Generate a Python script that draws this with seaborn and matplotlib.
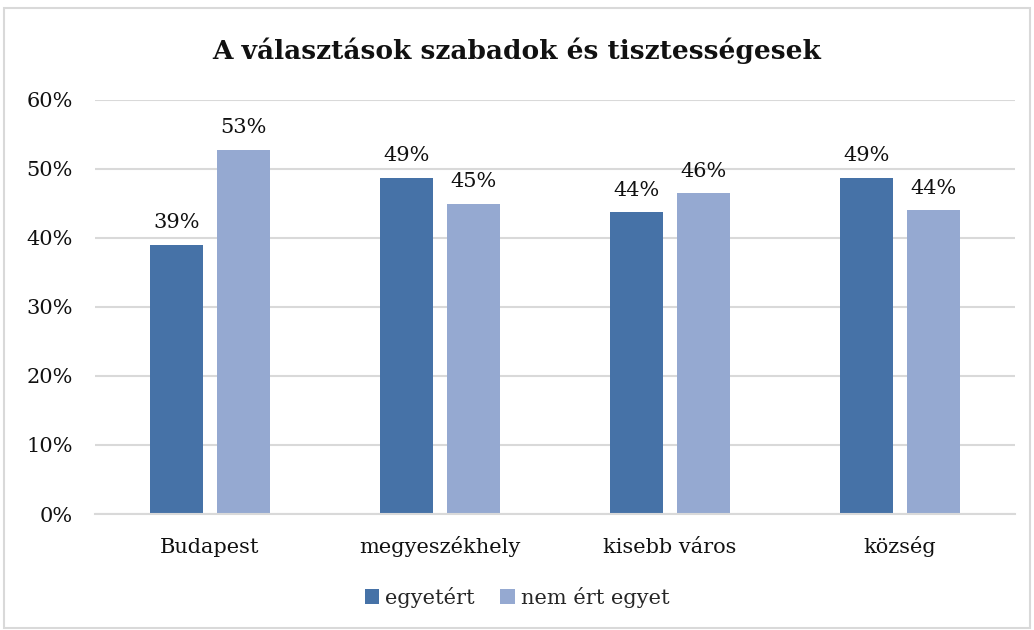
import matplotlib
matplotlib.use("Agg")
import matplotlib.pyplot as plt
import seaborn as sns
import pandas as pd
from matplotlib.patches import Rectangle

categories = ["Budapest", "megyeszékhely", "kisebb város", "község"]
series_names = ["egyetért", "nem ért egyet"]
egyetert = [39.0, 48.7, 43.7, 48.7]
nem_ert_egyet = [52.7, 44.9, 46.4, 44.0]
yticks = [0, 10, 20, 30, 40, 50, 60]
title = "A választások szabadok és tisztességesek"

colors = ["#4672a7", "#95a9d1"]

df = pd.DataFrame({
    "kategoria": categories * 2,
    "sorozat": [series_names[0]] * 4 + [series_names[1]] * 4,
    "ertek": egyetert + nem_ert_egyet,
})

sns.set_theme(style="white")
FONT = ["DejaVu Serif"]
plt.rcParams["font.family"] = FONT

fig = plt.figure(figsize=(10.34, 6.30), dpi=100)
ax = fig.add_axes([0.0919, 0.1841, 0.8897, 0.6579])

sns.barplot(data=df, x="kategoria", y="ertek", hue="sorozat", order=categories,
            hue_order=series_names, palette=colors, width=0.582, gap=0.21,
            saturation=1, linewidth=0, ax=ax, legend=True)

ax.set_ylim(0, 60)
ax.set_xlim(-0.5, len(categories) - 0.5)
ax.set_yticks(yticks)
ax.set_yticklabels([f"{t}%" for t in yticks], fontsize=15, color="#111111")
ax.tick_params(axis="x", labelsize=15, colors="#111111", pad=28, length=0)
ax.tick_params(axis="y", length=0, pad=16)
for lbl in ax.get_xticklabels():
    lbl.set_verticalalignment("baseline")
ax.set_xlabel("")
ax.set_ylabel("")
ax.grid(axis="y", color="#d9d9d9", linewidth=1.5)
ax.set_axisbelow(True)
for s in ["top", "right", "left"]:
    ax.spines[s].set_visible(False)
ax.spines["bottom"].set_color("#d9d9d9")
ax.spines["bottom"].set_linewidth(1.5)

for cont in ax.containers:
    ax.bar_label(cont, labels=[f"{v:.0f}%" for v in cont.datavalues],
                 padding=9, fontsize=15, color="#111111")

handles, labels = ax.get_legend_handles_labels()
ax.get_legend().remove()
fig.legend(handles, labels, loc="center", bbox_to_anchor=(0.5, 0.052), ncol=2,
           frameon=False, fontsize=15, handlelength=0.7, handleheight=0.7,
           handletextpad=0.3, columnspacing=1.2)

fig.text(0.5, 0.92, title, ha="center", va="center", fontsize=19,
         fontweight="bold", color="#111111")

fig.patches.append(Rectangle((0.004, 0.003), 0.992, 0.985, transform=fig.transFigure,
                             fill=False, edgecolor="#d9d9d9", linewidth=1.5))

fig.savefig("out.png", dpi=100, facecolor="white")
